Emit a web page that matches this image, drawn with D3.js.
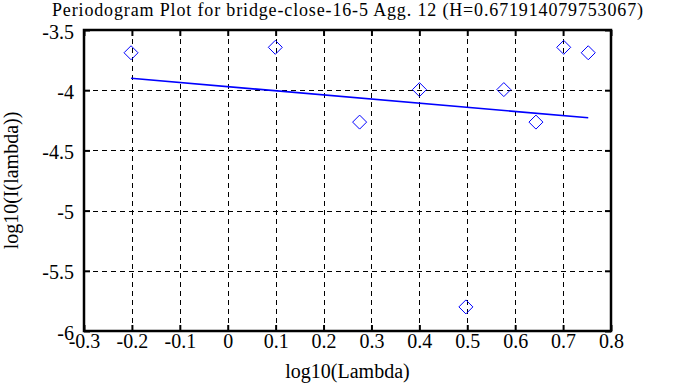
<!DOCTYPE html>
<html>
<head>
<meta charset="utf-8">
<script src="https://cdn.jsdelivr.net/npm/d3@7"></script>
<style>
  html, body { margin: 0; padding: 0; background: #fff; }
  svg { display: block; }
  text { font-family: "Liberation Serif", "Times New Roman", serif; fill: #000; }
</style>
</head>
<body>
<svg id="chart" width="695" height="387"></svg>
<script>
// ---- data ----
const titleText = "Periodogram Plot for bridge-close-16-5 Agg. 12 (H=0.671914079753067)";
const xLabel = "log10(Lambda)";
const yLabel = "log10(I(lambda))";
const xTicks = [-0.3, -0.2, -0.1, 0, 0.1, 0.2, 0.3, 0.4, 0.5, 0.6, 0.7, 0.8];
const yTicks = [-6, -5.5, -5, -4.5, -4, -3.5];
const pointX = [-0.2018, 0.0993, 0.2753, 0.4002, 0.4971, 0.5763, 0.6433, 0.7013, 0.7525];
const pointY = [-3.689, -3.644, -4.265, -3.995, -5.800, -3.995, -4.265, -3.644, -3.689];
const fitX = [-0.2018, 0.7525];
const fitY = [-3.901, -4.229];

// ---- layout ----
const svg = d3.select("#chart");
const pL = 84, pR = 611, pT = 30, pB = 331;
const FS = 20;
const x = d3.scaleLinear().domain([-0.3, 0.8]).range([pL, pR]);
const y = d3.scaleLinear().domain([-6, -3.5]).range([pB, pT]);

// grid
const grid = svg.append("g").attr("stroke", "#000").attr("stroke-width", 1)
  .attr("stroke-dasharray", "5,4").attr("shape-rendering", "crispEdges");
grid.selectAll("line.v").data(xTicks.slice(1, -1)).enter().append("line")
  .attr("x1", d => Math.round(x(d)) + 0.5).attr("x2", d => Math.round(x(d)) + 0.5)
  .attr("y1", pT).attr("y2", pB);
grid.selectAll("line.h").data(yTicks.slice(1, -1)).enter().append("line")
  .attr("y1", d => Math.round(y(d)) + 0.5).attr("y2", d => Math.round(y(d)) + 0.5)
  .attr("x1", pL).attr("x2", pR);

// axes with inner ticks (mirrored)
const tickLen = 6;
const fmt = d => String(+d.toFixed(2));
const axB = d3.axisBottom(x).tickValues(xTicks).tickSizeInner(-tickLen).tickSizeOuter(0).tickFormat(fmt);
const axT = d3.axisTop(x).tickValues(xTicks).tickSizeInner(-tickLen).tickSizeOuter(0).tickFormat("");
const axL = d3.axisLeft(y).tickValues(yTicks).tickSizeInner(-tickLen).tickSizeOuter(0).tickFormat(fmt);
const axR = d3.axisRight(y).tickValues(yTicks).tickSizeInner(-tickLen).tickSizeOuter(0).tickFormat("");

function styleAxis(g) {
  g.select(".domain").remove();
  g.selectAll(".tick line").attr("stroke", "#000").attr("stroke-width", 2);
  g.selectAll(".tick text").attr("font-size", FS).attr("font-family", "Liberation Serif, serif").attr("fill", "#000");
}
svg.append("g").attr("transform", `translate(0,${pB})`).call(axB).call(styleAxis)
  .selectAll(".tick text").attr("y", 17).attr("dy", 0);
svg.append("g").attr("transform", `translate(0,${pT})`).call(axT).call(styleAxis);
svg.append("g").attr("transform", `translate(${pL},0)`).call(axL).call(styleAxis)
  .selectAll(".tick text").attr("x", -10).attr("dy", 8);
svg.append("g").attr("transform", `translate(${pR},0)`).call(axR).call(styleAxis);

// frame
svg.append("rect").attr("x", pL).attr("y", pT).attr("width", pR - pL).attr("height", pB - pT)
  .attr("fill", "none").attr("stroke", "#000").attr("stroke-width", 2.5);

// fit line
const fitData = fitX.map((v, i) => [v, fitY[i]]);
svg.append("path").datum(fitData)
  .attr("d", d3.line().x(d => x(d[0])).y(d => y(d[1])))
  .attr("stroke", "#0000ff").attr("stroke-width", 1.6).attr("fill", "none");

// diamonds
const pts = pointX.map((v, i) => [v, pointY[i]]);
svg.append("g").selectAll("path").data(pts).enter().append("path")
  .attr("transform", d => `translate(${x(d[0])},${y(d[1])})`)
  .attr("d", "M0,-7L7,0L0,7L-7,0Z")
  .attr("fill", "none").attr("stroke", "#0000ff").attr("stroke-width", 1);

// title and labels
svg.append("text").attr("x", 347.5).attr("y", 16).attr("text-anchor", "middle")
  .attr("font-size", 18).attr("textLength", 591).attr("lengthAdjust", "spacing").text(titleText);
svg.append("text").attr("x", 347.5).attr("y", 378).attr("text-anchor", "middle")
  .attr("font-size", FS).text(xLabel);
svg.append("text").attr("transform", "translate(18,180.5) rotate(-90)").attr("text-anchor", "middle")
  .attr("font-size", FS).text(yLabel);
</script>
</body>
</html>
